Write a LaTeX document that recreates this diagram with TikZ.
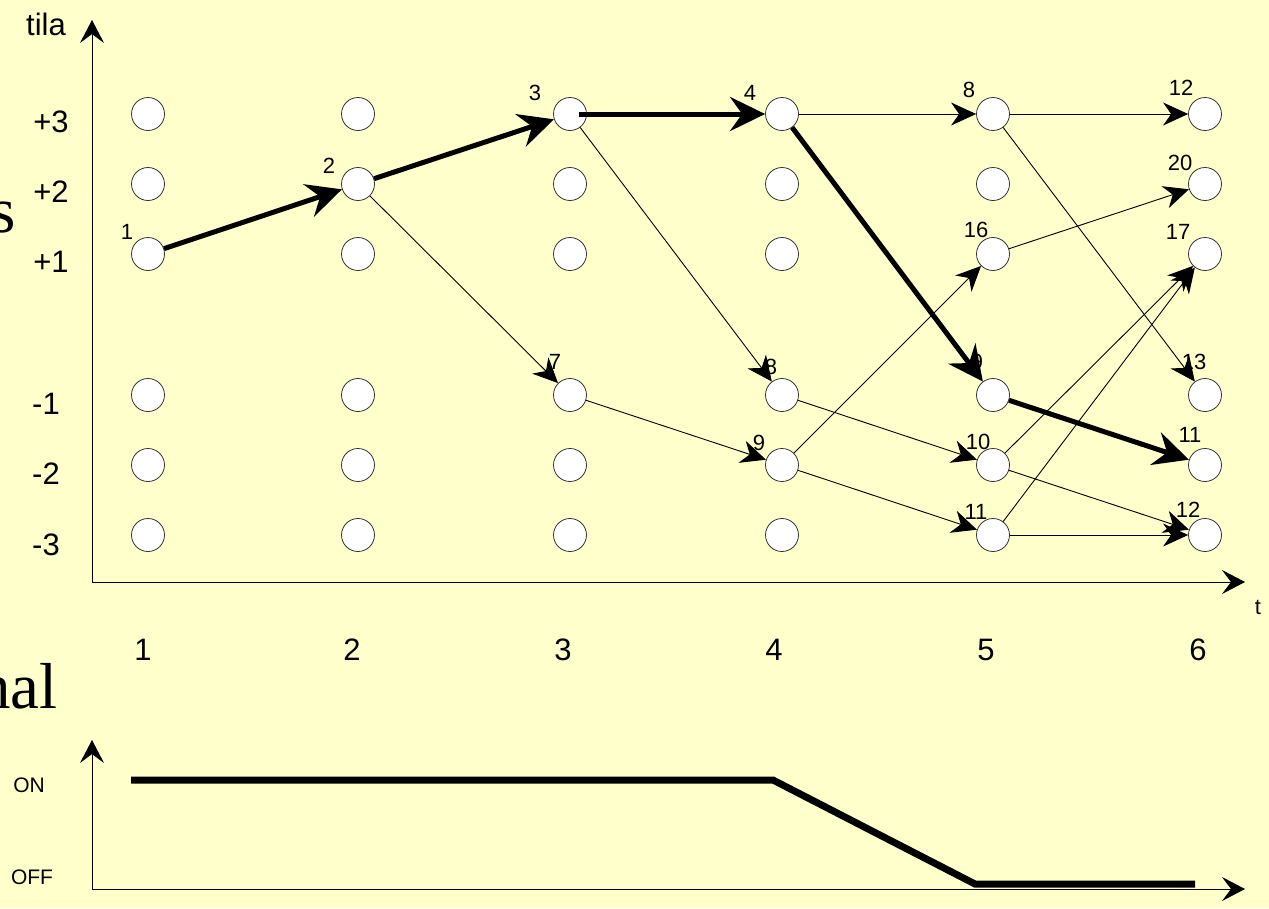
\documentclass[tikz,border=0pt]{standalone}
\usepackage{fontspec}
\setmainfont{Liberation Sans}
\newfontfamily\slideserif{Liberation Serif}
\usetikzlibrary{arrows.meta}
\definecolor{bgyellow}{HTML}{FFFFCC}
\definecolor{rim}{HTML}{333333}
\tikzset{
  st/.style={circle, draw=rim, fill=white, line width=0.8pt, minimum size=33pt, inner sep=0pt},
  lbl/.style={font=\fontsize{22}{22}\selectfont, inner sep=0pt},
  axlbl/.style={font=\fontsize{31}{31}\selectfont, inner sep=0pt},
  onoff/.style={font=\fontsize{21}{21}\selectfont, inner sep=0pt},
  bigserif/.style={font=\slideserif\fontsize{65}{65}\selectfont, inner sep=0pt},
  thinedge/.style={line width=0.9pt, -{Stealth[length=25pt,width=23pt,inset=8pt]}},
  thickedge/.style={line width=5pt, -{Stealth[length=35pt,width=34pt,inset=12pt]}},
  axisline/.style={line width=0.9pt, -{Stealth[length=23pt,width=24pt,inset=9pt]}},
  signal/.style={line width=7pt},
}
\begin{document}
\begin{tikzpicture}[x=1pt,y=-1pt]
\fill[bgyellow] (0,0) rectangle (1269,908);
\clip (0,0) rectangle (1269,908);

% partial slide text at the left edge
\node[bigserif, anchor=base east] (stxt) at (16,232) {s};
\node[bigserif, anchor=base east] (naltxt) at (58,708) {nal};

% axes of the trellis
\coordinate (yo) at (92,582);
\coordinate (ytop) at (92,20);
\coordinate (xend) at (1245,582);
\draw[axisline] (yo) -- (ytop);
\draw[axisline] (yo) -- (xend);
\node[axlbl] (tila) at (46,24) {tila};
\node[lbl] (tlab) at (1258,607) {t};

% row labels
\node[axlbl] (r1) at (51,122) {+3};
\node[axlbl] (r2) at (51,192) {+2};
\node[axlbl] (r3) at (51,262) {+1};
\node[axlbl] (r4) at (46,404) {-1};
\node[axlbl] (r5) at (46,474) {-2};
\node[axlbl] (r6) at (46,545) {-3};

% column labels
\foreach \c/\x in {1/143,2/352,3/563,4/774,5/986,6/1198}
  \node[axlbl] (col\c) at (\x,650) {\c};

% state nodes
\foreach \c/\x in {1/148,2/358,3/570,4/782,5/993,6/1205}
  \foreach \r/\y in {1/114,2/184,3/254,4/395,5/465,6/535}
    \node[st] (n\c\r) at (\x,\y) {};

% node labels
\node[lbl] (l13) at (127,232) {1};
\node[lbl] (l22) at (329,166) {2};
\node[lbl] (l31) at (535,93) {3};
\node[lbl] (l34) at (555,362) {7};
\node[lbl] (l41) at (750,93) {4};
\node[lbl] (l44) at (771,367) {8};
\node[lbl] (l45) at (759,443) {9};
\node[lbl] (l51) at (969,90) {8};
\node[lbl] (l53) at (976,230) {16};
\node[lbl] (l54) at (977,362) {9};
\node[lbl] (l55) at (978,442) {10};
\node[lbl] (l56) at (976,512) {11};
\node[lbl] (l61) at (1181,88) {12};
\node[lbl] (l62) at (1180,163) {20};
\node[lbl] (l63) at (1178,232) {17};
\node[lbl] (l64) at (1194,362) {13};
\node[lbl] (l65) at (1190,435) {11};
\node[lbl] (l66) at (1188,510) {12};

% thin transitions
\draw[thinedge] (n22) -- (n34);
\draw[thinedge] (n31) -- (n44);
\draw[thinedge] (n34) -- (n45);
\draw[thinedge] (n41) -- (n51);
\draw[thinedge] (n44) -- (n55);
\draw[thinedge] (n45) -- (n53);
\draw[thinedge] (n45) -- (n56);
\draw[thinedge] (n51) -- (n61);
\draw[thinedge] (n51) -- (n64);
\draw[thinedge] (n53) -- (n62);
\draw[thinedge] (n55) -- (n63);
\draw[thinedge] (n56) -- (n63);
\draw[thinedge] (n55) -- (n66);
\draw[thinedge] (n56) -- (n66);

% survivor path
\draw[thickedge] (n13) -- (n22);
\draw[thickedge] (n22) -- (n31);
\draw[thickedge] ([xshift=9pt]n31.center) -- (n41);
\draw[thickedge] (n41) -- (n54);
\draw[thickedge] (n54) -- (n65);

% signal chart
\coordinate (bo) at (92,889);
\coordinate (btop) at (92,740);
\coordinate (bend) at (1245,889);
\draw[axisline] (bo) -- (btop);
\draw[axisline] (bo) -- (bend);
\node[onoff] (on) at (29,785) {ON};
\node[onoff] (off) at (32,877) {OFF};
\coordinate (s1) at (131,780);
\coordinate (s2) at (773,780);
\coordinate (s3) at (975,884);
\coordinate (s4) at (1195,884);
\draw[signal] (s1) -- (s2) -- (s3) -- (s4);
\end{tikzpicture}
\end{document}
